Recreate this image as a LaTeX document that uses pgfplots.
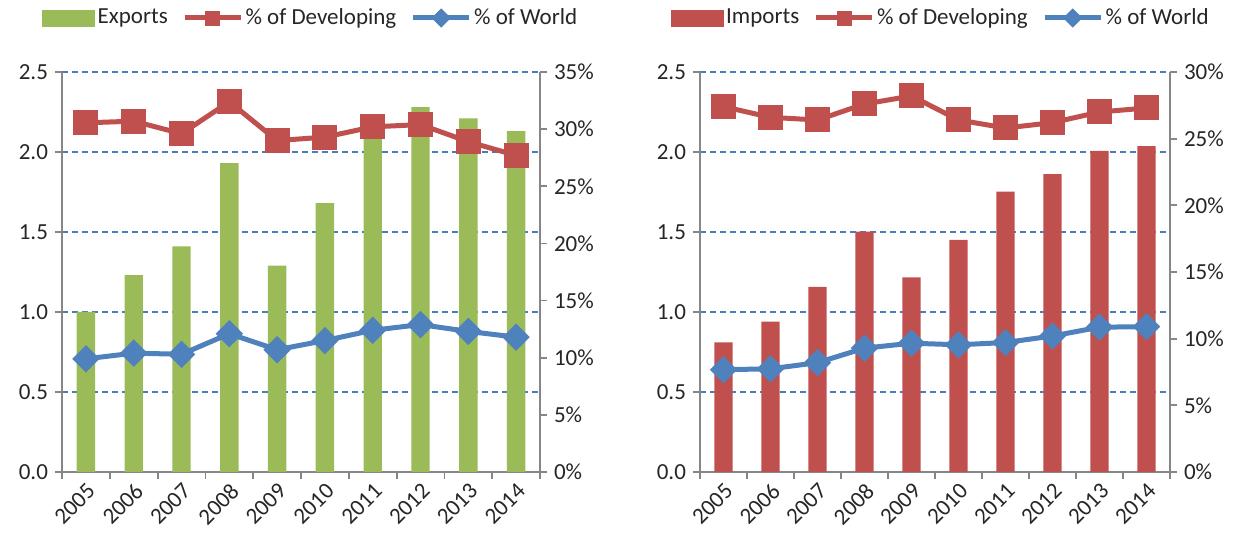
\documentclass[border=0pt]{standalone}
\usepackage{pgfplots}
\pgfplotsset{compat=1.18}
\usepackage{fontspec}
\setmainfont{Carlito}
\definecolor{xgreen}{HTML}{9BBB59}
\definecolor{xred}{HTML}{C0504D}
\definecolor{xblue}{HTML}{4F81BD}
\definecolor{axgray}{HTML}{868686}
\definecolor{gridblue}{HTML}{4A7EBB}
\definecolor{txt}{HTML}{262626}

\pgfplotsset{
  base/.style={
    scale only axis, height=200pt, xmin=-0.5, xmax=9.5, ymin=0,
    tick align=outside,
    axis line style={axgray, line width=0.9pt},
    tick style={axgray, line width=0.9pt},
    major tick length=3.5pt,
    ticklabel style={font=\fontsize{11.5}{13}\selectfont, text=txt},
    /pgf/number format/assume math mode=true,
    clip=false,
  },
  leftax/.style={
    base, ymax=2.5,
    axis y line*=left, axis x line*=bottom,
    ytick={0,0.5,1,1.5,2,2.5},
    yticklabels={0.0,0.5,1.0,1.5,2.0,2.5},
    ymajorgrids,
    grid style={gridblue, line width=0.8pt, dash pattern=on 3pt off 2pt},
    xtick={-0.5,0.5,1.5,2.5,3.5,4.5,5.5,6.5,7.5,8.5,9.5},
    xticklabels={},
    extra x ticks={0,1,2,3,4,5,6,7,8,9},
    extra x tick labels={2005,2006,2007,2008,2009,2010,2011,2012,2013,2014},
    extra x tick style={major tick length=0pt,
      xticklabel style={rotate=45, anchor=north east, font=\fontsize{11.5}{13}\selectfont, text=txt}},
  },
  rightax/.style={
    base, axis y line*=right, axis x line=none,
    legend style={at={(0.5,1)}, anchor=center, yshift=27pt, draw=none, fill=none,
      font=\fontsize{11.5}{13}\selectfont, text=txt, legend columns=3,
      nodes={inner sep=1.2pt},
      /tikz/every even column/.append style={column sep=6pt}},
  },
}

\begin{document}
\begin{tikzpicture}
\path[use as bounding box] (0,0) rectangle (623.5pt,270pt);

% ---------- Left panel: Exports ----------
\begin{axis}[leftax, at={(31pt,34pt)}, anchor=south west, width=239pt]
\addplot[ybar, bar width=9.2pt, fill=xgreen, draw=none] coordinates {
(0,1.00) (1,1.23) (2,1.41) (3,1.93) (4,1.29) (5,1.68) (6,2.14) (7,2.28) (8,2.21) (9,2.13)};
\end{axis}
\begin{axis}[rightax, at={(31pt,34pt)}, anchor=south west, width=239pt, ymax=35,
  ytick={0,5,10,15,20,25,30,35},
  yticklabels={0\%,5\%,10\%,15\%,20\%,25\%,30\%,35\%},
  legend style={xshift=5pt}]
\addlegendimage{legend image code/.code={\fill[xgreen] (0pt,-4pt) rectangle (26pt,4pt);}}
\addlegendentry{Exports}
\addlegendimage{legend image code/.code={\draw[xred, line width=2.5pt] (0pt,0pt) -- (28pt,0pt); \fill[xred] (10.5pt,-3.5pt) rectangle (17.5pt,3.5pt);}}
\addlegendentry{\% of Developing}
\addlegendimage{legend image code/.code={\draw[xblue, line width=2.5pt] (0pt,0pt) -- (28pt,0pt); \fill[xblue] (14pt,-4.5pt) -- (18.5pt,0pt) -- (14pt,4.5pt) -- (9.5pt,0pt) -- cycle;}}
\addlegendentry{\% of World}
\addplot[forget plot, xred, line width=2.5pt, mark=square*, mark size=5pt, mark options={solid}] coordinates {
(0,30.55) (1,30.7) (2,29.6) (3,32.4) (4,29.0) (5,29.3) (6,30.2) (7,30.4) (8,28.9) (9,27.7)};
\addplot[forget plot, xblue, line width=2.5pt, mark=square*, mark size=3.6pt, mark options={solid, rotate=45}] coordinates {
(0,9.9) (1,10.4) (2,10.3) (3,12.1) (4,10.7) (5,11.5) (6,12.4) (7,12.9) (8,12.3) (9,11.8)};
\end{axis}

% ---------- Right panel: Imports ----------
\begin{axis}[leftax, at={(350pt,34pt)}, anchor=south west, width=235pt]
\addplot[ybar, bar width=9.2pt, fill=xred, draw=none] coordinates {
(0,0.81) (1,0.94) (2,1.157) (3,1.503) (4,1.217) (5,1.45) (6,1.753) (7,1.861) (8,2.007) (9,2.036)};
\end{axis}
\begin{axis}[rightax, at={(350pt,34pt)}, anchor=south west, width=235pt, ymax=30,
  ytick={0,5,10,15,20,25,30},
  yticklabels={0\%,5\%,10\%,15\%,20\%,25\%,30\%},
  legend style={xshift=3pt}]
\addlegendimage{legend image code/.code={\fill[xred] (0pt,-4pt) rectangle (26pt,4pt);}}
\addlegendentry{Imports}
\addlegendimage{legend image code/.code={\draw[xred, line width=2.5pt] (0pt,0pt) -- (28pt,0pt); \fill[xred] (10.5pt,-3.5pt) rectangle (17.5pt,3.5pt);}}
\addlegendentry{\% of Developing}
\addlegendimage{legend image code/.code={\draw[xblue, line width=2.5pt] (0pt,0pt) -- (28pt,0pt); \fill[xblue] (14pt,-4.5pt) -- (18.5pt,0pt) -- (14pt,4.5pt) -- (9.5pt,0pt) -- cycle;}}
\addlegendentry{\% of World}
\addplot[forget plot, xred, line width=2.5pt, mark=square*, mark size=5pt, mark options={solid}] coordinates {
(0,27.4) (1,26.6) (2,26.4) (3,27.6) (4,28.2) (5,26.4) (6,25.8) (7,26.2) (8,27.0) (9,27.3)};
\addplot[forget plot, xblue, line width=2.5pt, mark=square*, mark size=3.6pt, mark options={solid, rotate=45}] coordinates {
(0,7.67) (1,7.74) (2,8.2) (3,9.29) (4,9.66) (5,9.54) (6,9.71) (7,10.2) (8,10.86) (9,10.9)};
\end{axis}
\end{tikzpicture}
\end{document}
